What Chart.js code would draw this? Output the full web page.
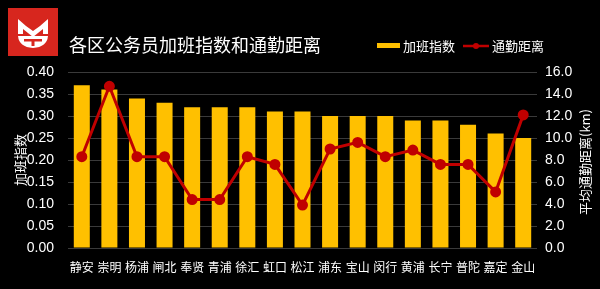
<!DOCTYPE html>
<html>
<head>
<meta charset="utf-8">
<script src="https://cdn.jsdelivr.net/npm/chart.js@4/dist/chart.umd.min.js"></script>
<style>
html,body{margin:0;padding:0;background:#000;}
#wrap{position:relative;width:600px;height:289px;}
canvas{display:block;}
</style>
</head>
<body>
<div id="wrap"><canvas id="c" width="600" height="289"></canvas></div>
<script>
const titleText = '各区公务员加班指数和通勤距离';
const categories = ['静安','崇明','杨浦','闸北','奉贤','青浦','徐汇','虹口','松江','浦东','宝山','闵行','黄浦','长宁','普陀','嘉定','金山'];
const overtimeIndex = [0.37,0.36,0.34,0.33,0.32,0.32,0.32,0.31,0.31,0.30,0.30,0.30,0.29,0.29,0.28,0.26,0.25];
const commuteKm = [8.3,14.7,8.3,8.3,4.4,4.4,8.3,7.6,3.9,9.0,9.6,8.3,8.9,7.6,7.6,5.1,12.1];
const leftTicks = [0,0.05,0.10,0.15,0.20,0.25,0.30,0.35,0.40];
const rightTicks = [0,2,4,6,8,10,12,14,16];
const seriesNames = ['加班指数','通勤距离'];
const axisTitles = ['加班指数','平均通勤距离(km)'];

const FONT = '"Noto Sans CJK SC", "DejaVu Sans", sans-serif';
const NUMFONT = '"Liberation Sans", "Noto Sans CJK SC", sans-serif';
const YELLOW = '#FFC000';
const RED = '#C00000';

const decor = {
  id: 'decor',
  afterDraw(chart) {
    const ctx = chart.ctx;
    ctx.save();
    // logo
    ctx.fillStyle = '#D7261E';
    ctx.fillRect(8, 8, 50, 48);
    ctx.fillStyle = '#fff';
    ctx.beginPath();
    ctx.moveTo(18, 19); ctx.lineTo(26, 26); ctx.lineTo(33, 31); ctx.lineTo(40, 26); ctx.lineTo(48, 19);
    ctx.lineTo(48, 34); ctx.lineTo(43, 34); ctx.lineTo(43, 29); ctx.lineTo(33, 37); ctx.lineTo(23, 29); ctx.lineTo(23, 34); ctx.lineTo(18, 34);
    ctx.closePath(); ctx.fill();
    ctx.beginPath();
    ctx.moveTo(18, 36); ctx.lineTo(48, 36);
    ctx.quadraticCurveTo(47, 47, 33, 48);
    ctx.quadraticCurveTo(19, 47, 18, 36);
    ctx.closePath(); ctx.fill();
    ctx.fillStyle = '#D7261E';
    ctx.fillRect(24, 39, 18, 2.5);
    ctx.fillRect(31.5, 39, 3, 7);
    // title
    ctx.fillStyle = '#fff';
    ctx.font = '18px ' + FONT;
    ctx.textBaseline = 'middle';
    ctx.textAlign = 'left';
    ctx.fillText(titleText, 69, 45);
    // legend
    ctx.font = '13px ' + FONT;
    ctx.fillStyle = YELLOW;
    ctx.fillRect(377, 43, 23, 5);
    ctx.fillStyle = '#fff';
    ctx.fillText(seriesNames[0], 403, 46);
    ctx.strokeStyle = RED; ctx.lineWidth = 2.5;
    ctx.beginPath(); ctx.moveTo(463, 46); ctx.lineTo(489, 46); ctx.stroke();
    ctx.fillStyle = RED;
    ctx.beginPath(); ctx.arc(476, 46, 3, 0, Math.PI * 2); ctx.fill();
    ctx.fillStyle = '#fff';
    ctx.fillText(seriesNames[1], 492, 46);
    // axis titles
    ctx.font = '13px ' + FONT;
    ctx.textAlign = 'center';
    ctx.save(); ctx.translate(20, 160); ctx.rotate(-Math.PI / 2); ctx.fillText(axisTitles[0], 0, 0); ctx.restore();
    ctx.save(); ctx.translate(585, 162); ctx.rotate(-Math.PI / 2); ctx.fillText(axisTitles[1], 0, 0); ctx.restore();
    ctx.restore();
  }
};

const bg = {
  id: 'bg',
  beforeDraw(chart) {
    const ctx = chart.ctx;
    ctx.save(); ctx.fillStyle = '#000'; ctx.fillRect(0, 0, chart.width, chart.height); ctx.restore();
  }
};

new Chart(document.getElementById('c'), {
  data: {
    labels: categories,
    datasets: [
      {
        type: 'line', label: seriesNames[1], data: commuteKm, yAxisID: 'y1',
        borderColor: RED, backgroundColor: RED, borderWidth: 3,
        pointRadius: 4, pointBackgroundColor: RED, pointBorderColor: RED,
        tension: 0, order: 0
      },
      {
        type: 'bar', label: seriesNames[0], data: overtimeIndex, yAxisID: 'y',
        backgroundColor: YELLOW, borderWidth: 0,
        categoryPercentage: 1, barPercentage: 0.58, order: 1
      }
    ]
  },
  options: {
    responsive: false,
    animation: false,
    layout: { padding: { top: 72, left: 0, right: 0, bottom: 0 } },
    plugins: { legend: { display: false }, title: { display: false }, tooltip: { enabled: false } },
    scales: {
      x: {
        grid: { display: false },
        border: { display: false },
        ticks: { color: '#fff', font: { family: FONT, size: 12 }, maxRotation: 0, autoSkip: false, padding: 4 },
        afterFit(s) { s.height = 41; }
      },
      y: {
        position: 'left', min: 0, max: 0.4,
        afterBuildTicks(s) { s.ticks = leftTicks.map(v => ({ value: v })); },
        grid: { color: '#3a3a3a', lineWidth: 1, drawTicks: false },
        border: { display: false },
        ticks: { color: '#fff', font: { family: NUMFONT, size: 14 }, padding: 14, callback: v => v.toFixed(2) },
        afterFit(s) { s.width = 68; }
      },
      y1: {
        position: 'right', min: 0, max: 16,
        afterBuildTicks(s) { s.ticks = rightTicks.map(v => ({ value: v })); },
        grid: { display: false, drawTicks: false },
        border: { display: false },
        ticks: { color: '#fff', font: { family: NUMFONT, size: 14 }, padding: 8, callback: v => v.toFixed(1) },
        afterFit(s) { s.width = 63; }
      }
    }
  },
  plugins: [bg, decor]
});
</script>
</body>
</html>
